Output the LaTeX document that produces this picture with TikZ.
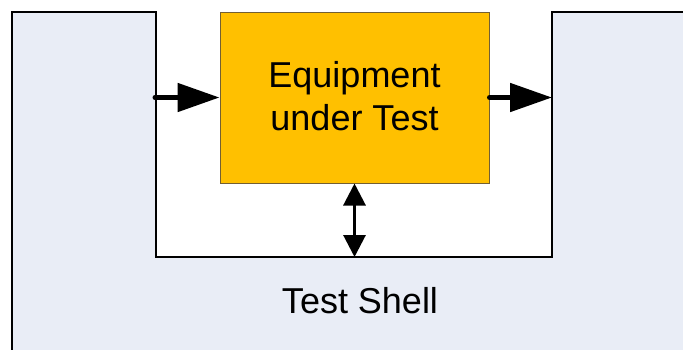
\documentclass[tikz,border=0pt]{standalone}
\usepackage{fontspec}
\setmainfont{Liberation Sans}
\usetikzlibrary{arrows.meta}
\definecolor{shellfill}{RGB}{233,237,246}
\definecolor{eutfill}{RGB}{255,192,0}
\definecolor{eutline}{RGB}{115,95,50}

\begin{document}
\begin{tikzpicture}[x=1pt, y=-1pt, font=\fontsize{36}{43}\selectfont,
        flow/.style={line width=5pt, line cap=round, -{Triangle[length=42pt, width=28pt]}},
        link/.style={line width=3pt, {Triangle[length=22pt, width=22pt]}-{Triangle[length=22pt, width=22pt]}}]
        \useasboundingbox(0, 0)rectangle(683, 349);
        \fill[shellfill](12, 12)--(156, 12)--(156, 257)--(552, 257)--(552, 12)--(690, 12)--(690, 360)--(12, 360)--cycle;
        \draw[line width=1.2pt](12, 360)--(12, 12)--(156, 12)--(156, 257)--(552, 257)--(552, 12)--(690, 12);
        \node[draw=eutline, fill=eutfill, line width=1pt, minimum width=269pt, minimum height=171pt, inner sep=0pt](eut)at(354.5, 97.5){};
        \node[align=center, inner sep=0pt](eutlabel)at(354.5, 96){Equipment\\under Test};
        \node[anchor=base](shell)at(360, 313){Test Shell};
        \coordinate(in)at(155, 97.5);
        \coordinate(out)at(552, 97.5);
        \coordinate(base)at(354.5, 257);
        \draw[flow](in)--(eut.west);
        \draw[flow](eut.east)--(out);
        \draw[link](eut.south)--(base);
    \end{tikzpicture}
\end{document}
